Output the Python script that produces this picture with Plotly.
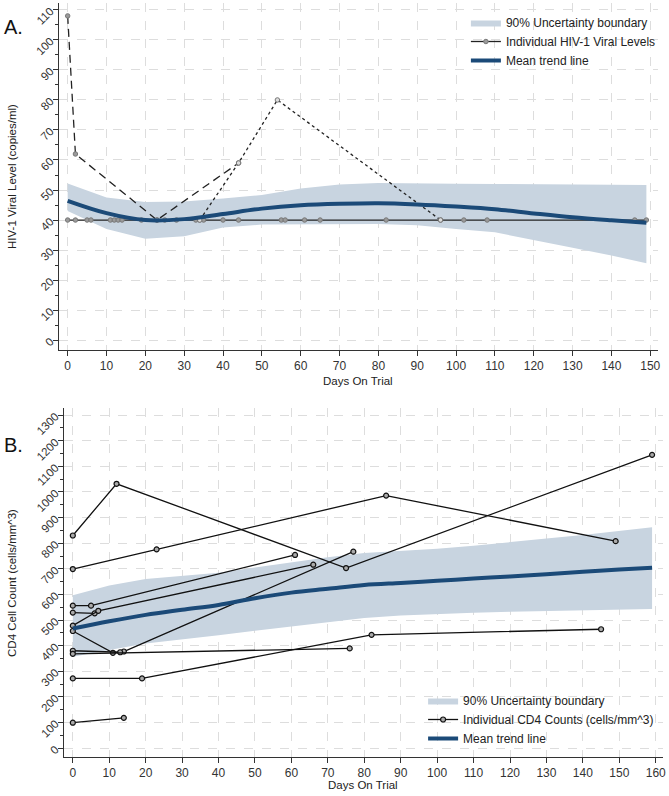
import plotly.graph_objects as go

# ---------------- Panel A data ----------------
hiv_flat_days = [0, 2, 5, 6, 11, 12, 13, 14, 19, 23, 25, 28, 33, 34, 35, 40, 44,
                 55, 56, 61, 65, 82, 96, 102, 108, 146, 149]
hiv_flat_vals = [40] * len(hiv_flat_days)
hiv_dash_days = [0, 2, 23, 44]
hiv_dash_vals = [108, 62, 40, 59]
hiv_dot_days = [34, 44, 54, 96]
hiv_dot_vals = [40, 59, 80, 40]

hiv_trend_days = [0, 10, 20, 30, 40, 50, 60, 70, 80, 90, 100, 110, 120, 130, 140, 149]
hiv_trend_mean = [46.4, 42.3, 40.0, 40.3, 42.0, 43.8, 44.9, 45.4, 45.6, 45.2, 44.5, 43.6, 42.2, 40.9, 39.9, 39.1]
hiv_trend_upper = [52.2, 47.5, 46.0, 46.2, 47.2, 48.3, 50.5, 51.8, 52.3, 52.3, 52.1, 52.0, 51.9, 51.8, 51.7, 51.7]
hiv_trend_lower = [43.0, 37.0, 33.8, 34.6, 37.5, 38.5, 38.7, 38.7, 38.7, 38.3, 37.0, 35.9, 33.3, 30.8, 28.2, 25.6]

# ---------------- Panel B data ----------------
cd4_days = [
    [0, 12, 75, 159],
    [0, 23, 86, 149],
    [0, 5, 61],
    [0, 6],
    [0, 7, 66],
    [0, 11, 14, 77],
    [0, 13],
    [0, 76],
    [0, 19, 82, 145],
    [0, 14],
]
cd4_vals = [
    [830, 1032, 703, 1145],
    [699, 776, 986, 808],
    [556, 556, 754],
    [529, 526],
    [478, 536, 716],
    [457, 372, 377, 767],
    [380, 374],
    [368, 389],
    [272, 272, 442, 464],
    [99, 118],
]

cd4_trend_days = [0, 10, 20, 30, 40, 50, 60, 70, 80, 90, 100, 110, 120, 130, 140, 150, 159]
cd4_trend_mean = [467, 495, 520, 540, 559, 585, 607, 622, 637, 645, 653, 662, 670, 679, 688, 697, 704]
cd4_trend_upper = [597, 635, 660, 672, 685, 705, 725, 745, 762, 770, 778, 790, 803, 818, 832, 848, 862]
cd4_trend_lower = [357, 383, 408, 425, 440, 458, 476, 492, 508, 518, 524, 528, 532, 536, 539, 541, 543]

# ---------------- styling ----------------
FONT = "Liberation Sans, Arial, sans-serif"
BAND = "#c8d4e0"
MEAN = "#1b4a78"
GRID = "#dddddd"
W, H = 669, 796

fig = go.Figure()

# Panel A
fig.add_trace(go.Scatter(
    x=hiv_trend_days + hiv_trend_days[::-1],
    y=hiv_trend_upper + hiv_trend_lower[::-1],
    fill="toself", fillcolor=BAND, line=dict(width=0), mode="lines",
    name="90% Uncertainty boundary", legend="legend", hoverinfo="skip",
    xaxis="x", yaxis="y"))
fig.add_trace(go.Scatter(
    x=hiv_flat_days, y=hiv_flat_vals, mode="lines+markers",
    line=dict(color="#222222", width=1.3),
    marker=dict(size=4.5, color="#9a9a9a", line=dict(color="#777777", width=1)),
    name="Individual HIV-1 Viral Levels", legend="legend", xaxis="x", yaxis="y"))
fig.add_trace(go.Scatter(
    x=hiv_dash_days, y=hiv_dash_vals, mode="lines+markers",
    line=dict(color="#222222", width=1.3, dash="8px,5px"),
    marker=dict(size=4.5, color="#9a9a9a", line=dict(color="#777777", width=1)),
    showlegend=False, xaxis="x", yaxis="y"))
fig.add_trace(go.Scatter(
    x=hiv_dot_days, y=hiv_dot_vals, mode="lines+markers",
    line=dict(color="#222222", width=1.3, dash="3px,3px"),
    marker=dict(size=4.5, color="#dddddd", line=dict(color="#777777", width=1)),
    showlegend=False, xaxis="x", yaxis="y"))
fig.add_trace(go.Scatter(
    x=hiv_trend_days, y=hiv_trend_mean, mode="lines", line=dict(color=MEAN, width=4, shape="spline"),
    name="Mean trend line", legend="legend", xaxis="x", yaxis="y"))

# Panel B
fig.add_trace(go.Scatter(
    x=cd4_trend_days + cd4_trend_days[::-1],
    y=cd4_trend_upper + cd4_trend_lower[::-1],
    fill="toself", fillcolor=BAND, line=dict(width=0), mode="lines",
    name="90% Uncertainty boundary", legend="legend2", hoverinfo="skip",
    xaxis="x2", yaxis="y2"))
for i, (dd, vv) in enumerate(zip(cd4_days, cd4_vals)):
    fig.add_trace(go.Scatter(
        x=dd, y=vv, mode="lines+markers",
        line=dict(color="#111111", width=1.3),
        marker=dict(size=5, color="#aaaaaa", line=dict(color="#111111", width=1.2)),
        name="Individual CD4 Counts (cells/mm^3)", legend="legend2",
        showlegend=(i == 0), legendgroup="cd4", xaxis="x2", yaxis="y2"))
fig.add_trace(go.Scatter(
    x=cd4_trend_days, y=cd4_trend_mean, mode="lines", line=dict(color=MEAN, width=4, shape="spline"),
    name="Mean trend line", legend="legend2", xaxis="x2", yaxis="y2"))

axis_common = dict(
    showline=True, linecolor="#333333", linewidth=1,
    ticks="outside", ticklen=5, tickcolor="#333333",
    showgrid=True, gridcolor=GRID, griddash="dash", gridwidth=1,
    zeroline=False, tickfont=dict(family=FONT, size=12, color="#333333"),
)

fig.update_layout(
    width=W, height=H,
    margin=dict(l=0, r=0, t=0, b=0),
    paper_bgcolor="white", plot_bgcolor="white",
    font=dict(family=FONT, color="#222222"),
    xaxis=dict(domain=[59 / W, 661 / W], range=[-2.3, 152], tickvals=list(range(0, 151, 10)),
               anchor="y", **axis_common),
    yaxis=dict(domain=[1 - 350 / H, 1 - 3 / H], range=[-3.3, 112.3], tickvals=list(range(0, 111, 10)),
               tickangle=-45, anchor="x",
               minor=dict(dtick=5, tick0=0, ticks="outside", ticklen=3, tickcolor="#333333", showgrid=False),
               **{**axis_common, "tickfont": dict(family=FONT, size=11.5, color="#333333")}),
    xaxis2=dict(domain=[64 / W, 666 / W], range=[-2.5, 162], tickvals=list(range(0, 161, 10)),
                anchor="y2", **axis_common),
    yaxis2=dict(domain=[1 - 757 / H, 1 - 408 / H], range=[-35, 1328], tickvals=list(range(0, 1301, 100)),
                tickangle=-45, anchor="x2",
                minor=dict(dtick=50, tick0=0, ticks="outside", ticklen=3, tickcolor="#333333", showgrid=False),
                **{**axis_common, "tickfont": dict(family=FONT, size=11.5, color="#333333")}),
    legend=dict(x=468 / W, y=1 - 8 / H, xanchor="left", yanchor="top",
                bgcolor="rgba(255,255,255,0)", itemwidth=30, tracegroupgap=0,
                font=dict(family=FONT, size=12, color="#222222")),
    legend2=dict(x=425 / W, y=1 - 686 / H, xanchor="left", yanchor="top",
                 bgcolor="rgba(255,255,255,0)", itemwidth=30, tracegroupgap=0,
                 font=dict(family=FONT, size=12, color="#222222")),
    annotations=[
        dict(text="A.", x=2 / W, y=1 - 27 / H, xref="paper", yref="paper", xanchor="left", yanchor="middle",
             showarrow=False, font=dict(family=FONT, size=20, color="#111111")),
        dict(text="B.", x=2 / W, y=1 - 445 / H, xref="paper", yref="paper", xanchor="left", yanchor="middle",
             showarrow=False, font=dict(family=FONT, size=20, color="#111111")),
        dict(text="HIV-1 Viral Level (copies/ml)", x=12 / W, y=1 - 176 / H, xref="paper", yref="paper",
             textangle=-90, showarrow=False, xanchor="center", yanchor="middle",
             font=dict(family=FONT, size=11.5, color="#222222")),
        dict(text="CD4 Cell Count (cells/mm^3)", x=12 / W, y=1 - 583 / H, xref="paper", yref="paper",
             textangle=-90, showarrow=False, xanchor="center", yanchor="middle",
             font=dict(family=FONT, size=11.5, color="#222222")),
        dict(text="Days On Trial", x=360 / W, y=1 - 381 / H, xref="paper", yref="paper",
             showarrow=False, xanchor="center", yanchor="middle",
             font=dict(family=FONT, size=11.5, color="#222222")),
        dict(text="Days On Trial", x=365 / W, y=1 - 785 / H, xref="paper", yref="paper",
             showarrow=False, xanchor="center", yanchor="middle",
             font=dict(family=FONT, size=11.5, color="#222222")),
    ],
)

fig.write_html("out.html")
